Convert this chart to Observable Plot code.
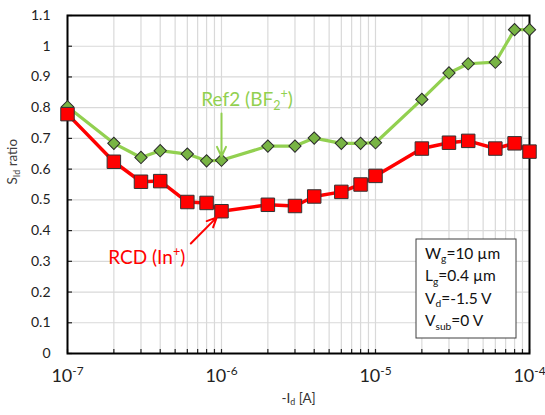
<!DOCTYPE html>
<html>
<head>
<meta charset="utf-8">
<script src="https://cdn.jsdelivr.net/npm/d3@7"></script>
<script src="https://cdn.jsdelivr.net/npm/@observablehq/plot@0.6"></script>
<style>
  html, body { margin: 0; padding: 0; background: #fff; }
  #chart { width: 545px; height: 415px; }
</style>
</head>
<body>
<div id="chart"></div>
<script>
// Drain current magnitude (A) at each measurement point
const drainCurrent = [1e-7, 2e-7, 3e-7, 4e-7, 6e-7, 8e-7, 1e-6, 2e-6, 3e-6, 4e-6, 6e-6, 8e-6, 1e-5, 2e-5, 3e-5, 4e-5, 6e-5, 8e-5, 1e-4];
// S_Id ratio, reference device (BF2+ implant)
const ref2Ratio = [0.803, 0.684, 0.638, 0.660, 0.649, 0.627, 0.629, 0.675, 0.675, 0.701, 0.684, 0.684, 0.686, 0.827, 0.913, 0.943, 0.948, 1.054, 1.054];
// S_Id ratio, RCD device (In+ implant)
const rcdRatio = [0.779, 0.624, 0.559, 0.561, 0.493, 0.490, 0.463, 0.484, 0.480, 0.511, 0.526, 0.550, 0.578, 0.667, 0.686, 0.692, 0.667, 0.684, 0.657];

// Axis ticks and labels (^{..} = superscript, _{..} = subscript)
const xDecades = [1e-7, 1e-6, 1e-5, 1e-4];
const xDecadeLabels = ["10^{-7}", "10^{-6}", "10^{-5}", "10^{-4}"];
const yTicks = [0, 0.1, 0.2, 0.3, 0.4, 0.5, 0.6, 0.7, 0.8, 0.9, 1, 1.1];
const yTickLabels = ["0", "0.1", "0.2", "0.3", "0.4", "0.5", "0.6", "0.7", "0.8", "0.9", "1", "1.1"];
const xTitle = "-I_{d} [A]";
const yTitle = "S_{Id} ratio";

// Bias conditions shown in the inset box
const conditions = ["W_{g}=10 µm", "L_{g}=0.4 µm", "V_{d}=-1.5 V", "V_{sub}=0 V"];

// Series labels with their arrows
const seriesLabels = ["Ref2 (BF_{2}^{+})", "RCD (In^{+})"];
const seriesColors = ["#92d050", "#ff0000"];

const GREEN = "#92d050", GREEN_MARK = "#78b444", RED = "#ff0000";
const FONT = "Lato, 'Open Sans', sans-serif";

const ref2 = drainCurrent.map((x, i) => ({x, y: ref2Ratio[i]}));
const rcd = drainCurrent.map((x, i) => ({x, y: rcdRatio[i]}));

// 1–9 × each decade for the log grid
const minorTicks = [];
for (let e = -7; e < -4; e++) for (let m = 1; m < 10; m++) minorTicks.push(m * Math.pow(10, e));
minorTicks.push(1e-4);

const labelPos = [
  {text: seriesLabels[0], x: 1.466e-6, y: 0.807, color: seriesColors[0]},
  {text: seriesLabels[1], x: 3.27e-7, y: 0.292, color: seriesColors[1]}
];
const arrows = [
  {x1: 1e-6, y1: 0.781, x2: 1e-6, y2: 0.641, color: seriesColors[0]},
  {x1: 6.32e-7, y1: 0.358, x2: 9.31e-7, y2: 0.443, color: seriesColors[1]}
];

// Inset box with bias conditions, anchored to the lower-right of the frame
function conditionBox(index, scales, values, dim) {
  const right = dim.width - dim.marginRight - 13;
  const bottom = dim.height - dim.marginBottom - 15;
  const w = 100, h = 99;
  const g = d3.create("svg:g");
  g.append("rect")
    .attr("x", right - w).attr("y", bottom - h)
    .attr("width", w).attr("height", h)
    .attr("fill", "#fff").attr("stroke", "#404040").attr("stroke-width", 1);
  g.selectAll("text").data(conditions).join("text")
    .attr("x", right - w + 9)
    .attr("y", (d, i) => bottom - h + 20 + i * 22.4)
    .attr("text-anchor", "start")
    .attr("font-size", 15.5)
    .attr("fill", "#111")
    .text(d => d);
  return g.node();
}

const plot = Plot.plot({
  width: 545,
  height: 415,
  marginLeft: 67,
  marginRight: 16,
  marginTop: 15,
  marginBottom: 62,
  style: {fontFamily: FONT, background: "#fff", color: "#222"},
  x: {type: "log", domain: [1e-7, 1e-4]},
  y: {domain: [0, 1.1]},
  marks: [
    Plot.gridX(minorTicks, {stroke: "#d9d9d9", strokeOpacity: 1, strokeWidth: 1.2}),
    Plot.gridY(yTicks, {stroke: "#d9d9d9", strokeOpacity: 1, strokeWidth: 1.2}),
    Plot.axisX(minorTicks, {tickSize: -4, text: null, label: null, strokeWidth: 1.2}),
    Plot.axisX(xDecades, {tickSize: 0, tickPadding: 16, label: null, fontSize: 18,
      tickFormat: d => xDecadeLabels[xDecades.indexOf(d)]}),
    Plot.axisY(yTicks, {tickSize: -5, text: null, label: null, strokeWidth: 1.2}),
    Plot.axisY(yTicks, {tickSize: 0, tickPadding: 17, label: null, fontSize: 14,
      tickFormat: d => yTickLabels[yTicks.indexOf(d)]}),
    Plot.text([xTitle], {frameAnchor: "bottom", dy: 49, text: d => d, fontSize: 13.5, fill: "#333"}),
    Plot.text([yTitle], {frameAnchor: "left", dx: -55, rotate: -90, text: d => d, fontSize: 13.5, fill: "#404040"}),
    Plot.line(ref2, {x: "x", y: "y", stroke: GREEN, strokeWidth: 3.2}),
    Plot.line(rcd, {x: "x", y: "y", stroke: RED, strokeWidth: 3.5}),
    Plot.frame({stroke: "#000", strokeWidth: 2}),
    Plot.dot(ref2, {x: "x", y: "y", symbol: "square", r: 4.9, rotate: 45, fill: GREEN_MARK, stroke: "#2a2a2a", strokeWidth: 1}),
    Plot.dot(rcd, {x: "x", y: "y", symbol: "square", r: 7.6, fill: RED, stroke: "#333", strokeWidth: 1}),
    Plot.arrow(arrows, {x1: "x1", y1: "y1", x2: "x2", y2: "y2", stroke: "color", strokeWidth: 2, headLength: 8, headAngle: 50}),
    Plot.text(labelPos, {x: "x", y: "y", text: "text", fill: "color", fontSize: 19, lineAnchor: "bottom"}),
    conditionBox
  ]
});

document.getElementById("chart").appendChild(plot);

// Turn ^{..} and _{..} markup into raised / lowered tspans
function richText(el) {
  const s = el.textContent;
  if (!/[\^_]\{/.test(s)) return;
  const fs = parseFloat(getComputedStyle(el).fontSize) || 14;
  el.textContent = "";
  const re = /([\^_])\{([^}]*)\}|([^\^_]+)/g;
  let m, offset = 0;
  while ((m = re.exec(s))) {
    const t = document.createElementNS("http://www.w3.org/2000/svg", "tspan");
    let target = 0;
    if (m[1]) {
      target = m[1] === "^" ? -0.42 * fs : 0.22 * fs;
      t.textContent = m[2];
      t.setAttribute("font-size", (0.66 * fs).toFixed(2));
    } else {
      t.textContent = m[3];
    }
    t.setAttribute("dy", (target - offset).toFixed(2));
    offset = target;
    el.appendChild(t);
  }
}
plot.querySelectorAll("text").forEach(richText);
</script>
</body>
</html>
